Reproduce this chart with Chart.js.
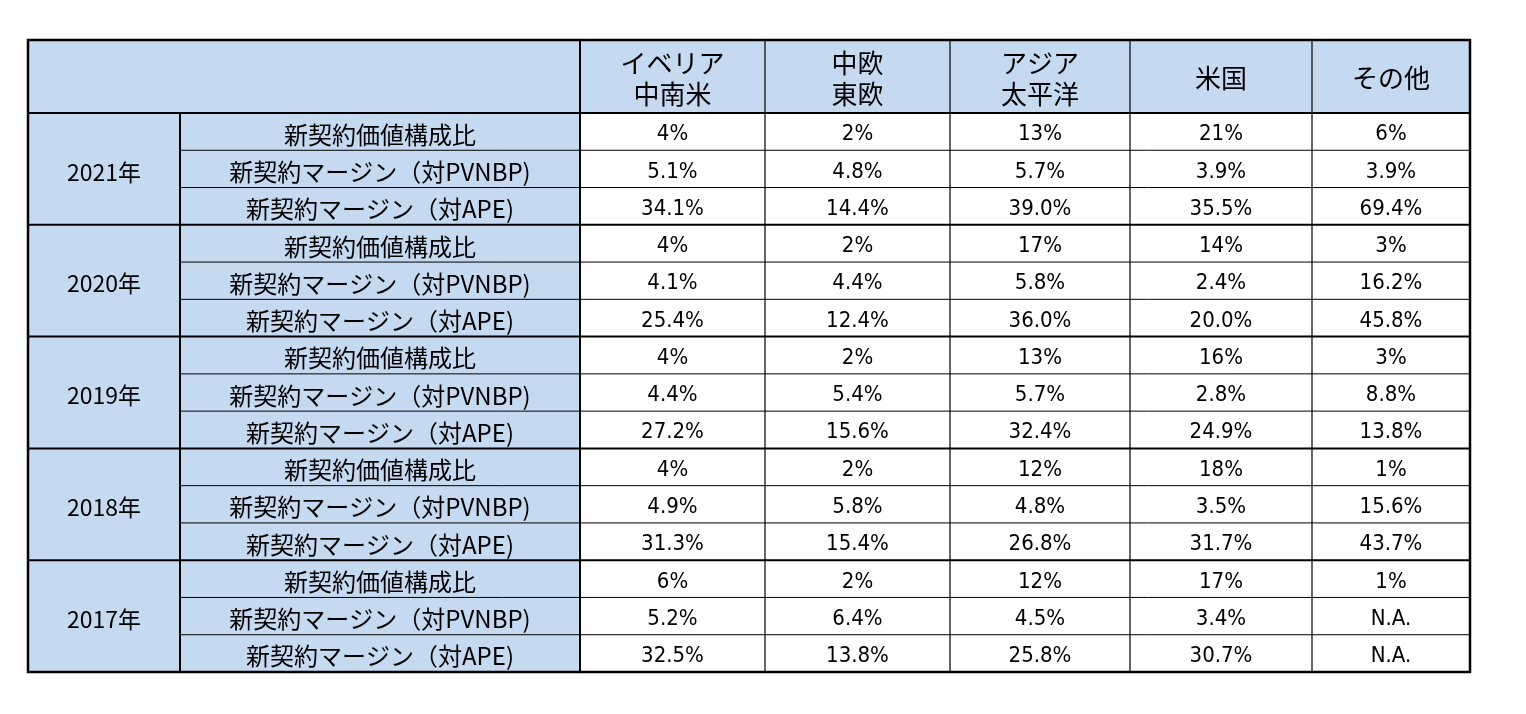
<!DOCTYPE html>
<html><head><meta charset="utf-8">
<script src="https://cdn.jsdelivr.net/npm/chart.js@4/dist/chart.umd.min.js"></script>
<style>html,body{margin:0;padding:0;background:#fff;}#wrap{width:1526px;height:714px;}</style>
</head><body><div id="wrap"><canvas id="c"></canvas></div>
<script>
const regions = ["イベリア\n中南米","中欧\n東欧","アジア\n太平洋","米国","その他"];
const years = ["2021年","2020年","2019年","2018年","2017年"];
const metrics = ["新契約価値構成比","新契約マージン（対PVNBP)","新契約マージン（対APE)"];
const v2021 = [["4%","2%","13%","21%","6%"],["5.1%","4.8%","5.7%","3.9%","3.9%"],["34.1%","14.4%","39.0%","35.5%","69.4%"]];
const v2020 = [["4%","2%","17%","14%","3%"],["4.1%","4.4%","5.8%","2.4%","16.2%"],["25.4%","12.4%","36.0%","20.0%","45.8%"]];
const v2019 = [["4%","2%","13%","16%","3%"],["4.4%","5.4%","5.7%","2.8%","8.8%"],["27.2%","15.6%","32.4%","24.9%","13.8%"]];
const v2018 = [["4%","2%","12%","18%","1%"],["4.9%","5.8%","4.8%","3.5%","15.6%"],["31.3%","15.4%","26.8%","31.7%","43.7%"]];
const v2017 = [["6%","2%","12%","17%","1%"],["5.2%","6.4%","4.5%","3.4%","N.A."],["32.5%","13.8%","25.8%","30.7%","N.A."]];
const yearValues = [v2021,v2020,v2019,v2018,v2017];

const colEdges = [28,180,580,765,950,1130,1312,1470];
const top0 = 40, headBottom = 113, bottom = 672;
const rowH = (bottom-headBottom)/15;
const FONT = '"Noto Sans CJK JP","Noto Sans",sans-serif';
const BLUE = '#C5D9F1';
const DY = 3;

const tablePlugin = {
  id:'table',
  afterDraw(chart){
    const ctx = chart.ctx, xs = chart.scales.x, ys = chart.scales.y;
    const X = v=>xs.getPixelForValue(v), Y = v=>ys.getPixelForValue(v);
    const rowY = i => headBottom + i*rowH;
    ctx.save();
    ctx.fillStyle = BLUE;
    ctx.fillRect(X(colEdges[0]),Y(top0),X(colEdges[7])-X(colEdges[0]),Y(headBottom)-Y(top0));
    ctx.fillRect(X(colEdges[0]),Y(headBottom),X(colEdges[2])-X(colEdges[0]),Y(bottom)-Y(headBottom));
    ctx.fillStyle='#000'; ctx.textAlign='center'; ctx.textBaseline='middle';
    ctx.font = '26px '+FONT;
    regions.forEach((r,j)=>{
      const cx = (X(colEdges[j+2])+X(colEdges[j+3]))/2;
      const lines = r.split('\n');
      const cy = (Y(top0)+Y(headBottom))/2 + 2;
      lines.forEach((l,k)=>ctx.fillText(l,cx,cy+(k-(lines.length-1)/2)*31));
    });
    years.forEach((yr,g)=>{
      ctx.font = '23px '+FONT;
      ctx.fillText(yr,(X(colEdges[0])+X(colEdges[1]))/2,(Y(rowY(g*3))+Y(rowY(g*3+3)))/2+DY);
      metrics.forEach((m,r)=>{
        const cy = (Y(rowY(g*3+r))+Y(rowY(g*3+r+1)))/2+DY;
        ctx.font = '24px '+FONT;
        ctx.fillText(m,(X(colEdges[1])+X(colEdges[2]))/2,cy);
        yearValues[g][r].forEach((v,j)=>{
          ctx.font = '22px "Liberation Sans Narrow","DejaVu Sans Condensed",'+FONT;
          ctx.fillText(v,(X(colEdges[j+2])+X(colEdges[j+3]))/2,cy);
        });
      });
    });
    ctx.strokeStyle='#000';
    const line=(x1,y1,x2,y2,w)=>{ctx.lineWidth=w;ctx.beginPath();ctx.moveTo(x1,y1);ctx.lineTo(x2,y2);ctx.stroke();};
    for(let i=1;i<15;i++){ if(i%3) line(X(colEdges[1]),Y(rowY(i)),X(colEdges[7]),Y(rowY(i)),1); }
    for(let g=0;g<=5;g++) line(X(colEdges[0]),Y(rowY(g*3)),X(colEdges[7]),Y(rowY(g*3)),2);
    for(let j=1;j<7;j++) line(X(colEdges[j]),Y(j===1?headBottom:top0),X(colEdges[j]),Y(bottom),j<=2?2:1.2);
    ctx.lineWidth=2.5;
    ctx.strokeRect(X(colEdges[0]),Y(top0),X(colEdges[7])-X(colEdges[0]),Y(bottom)-Y(top0));
    ctx.restore();
  }
};

new Chart(document.getElementById('c'),{
  type:'scatter',
  data:{datasets:[{data:[]}]},
  options:{
    responsive:true,maintainAspectRatio:false,animation:false,
    layout:{padding:0},
    plugins:{legend:{display:false},tooltip:{enabled:false}},
    scales:{
      x:{type:'linear',min:0,max:1526,display:false},
      y:{type:'linear',min:0,max:714,reverse:true,display:false}
    }
  },
  plugins:[tablePlugin]
});
</script></body></html>
